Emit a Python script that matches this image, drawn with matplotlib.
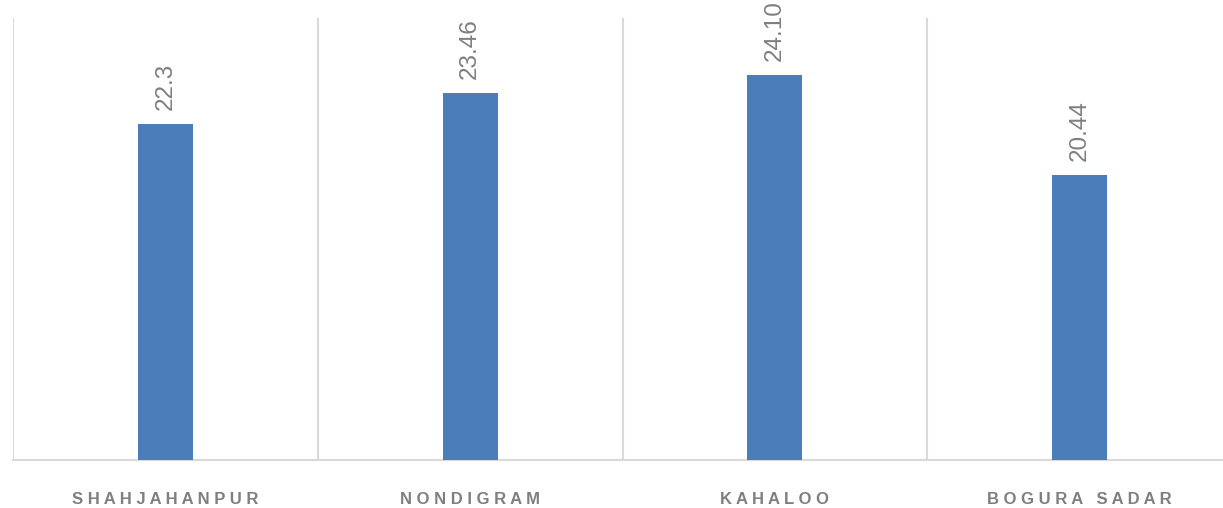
import matplotlib
matplotlib.use("Agg")
import matplotlib.pyplot as plt

# data
places = ["SHAHJAHANPUR", "NONDIGRAM", "KAHALOO", "BOGURA SADAR"]
values = [22.3, 23.46, 24.10, 20.44]
value_labels = ["22.3", "23.46", "24.10", "20.44"]

bar_color = "#4a7dba"
grid_color = "#d9d9d9"
text_color = "#7f7f7f"


def spaced(name):
    # fake letter spacing: a space between letters, wider gap between words
    words = name.split(" ")
    return "   ".join(" ".join(list(w)) for w in words)


fig = plt.figure(figsize=(12.23, 5.08), dpi=100)
ax = fig.add_axes([13 / 1223, 48 / 508, 1219 / 1223, 442 / 508])

x = list(range(len(places)))
ax.bar(x, values, width=0.18, color=bar_color, zorder=3)

ax.set_xlim(-0.5, len(places) - 0.5)
ax.set_ylim(10, 26.2)

# category separators
ax.set_xticks([i - 0.5 for i in range(len(places) + 1)], minor=True)
ax.grid(which="minor", axis="x", color=grid_color, linewidth=1.5, zorder=0)
ax.tick_params(which="minor", length=0)

ax.set_xticks(x)
ax.set_xticklabels([spaced(p) for p in places], fontsize=12, fontweight="bold",
                   color=text_color, family="Liberation Sans")
ax.tick_params(axis="x", which="major", length=0, pad=23)
ax.set_yticks([])

for side in ["top", "left", "right"]:
    ax.spines[side].set_visible(False)
ax.spines["bottom"].set_color(grid_color)
ax.spines["bottom"].set_linewidth(1.5)

for xi, v, lab in zip(x, values, value_labels):
    ax.annotate(lab, (xi, v), xytext=(0, 14), textcoords="offset pixels",
                rotation=90, ha="center", va="bottom", fontsize=17.5,
                color=text_color, family="Liberation Sans")

fig.savefig("out.png", dpi=100)
